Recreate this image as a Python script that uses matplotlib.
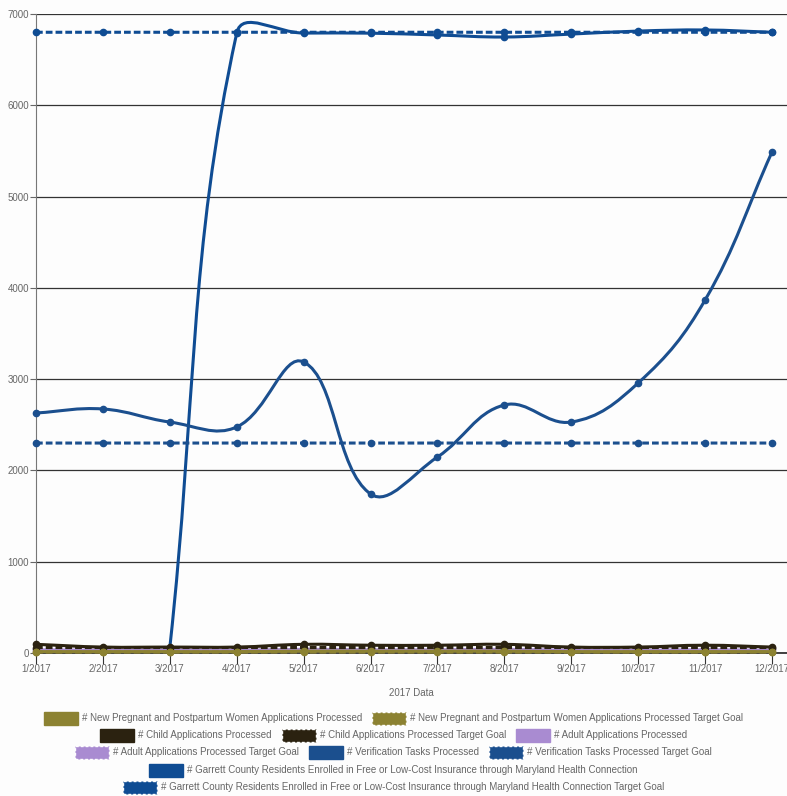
import numpy as np
import matplotlib
matplotlib.use("Agg")
import matplotlib.pyplot as plt
from matplotlib.path import Path
from matplotlib.patches import PathPatch, Rectangle

months = ["1/2017", "2/2017", "3/2017", "4/2017", "5/2017", "6/2017",
          "7/2017", "8/2017", "9/2017", "10/2017", "11/2017", "12/2017"]

pregnant = [15, 15, 15, 15, 20, 20, 20, 20, 15, 15, 15, 15]
pregnant_goal = [10] * 12
child = [95, 65, 65, 65, 95, 85, 85, 95, 65, 65, 85, 65]
child_goal = [60] * 12
adult = [35, 30, 30, 30, 40, 35, 35, 40, 30, 30, 35, 30]
adult_goal = [40] * 12
verification = [2629, 2673, 2530, 2476, 3188, 1742, 2147, 2717, 2530, 2958, 3867, 5488]
verification_goal = [2300] * 12
garrett = [None, None, 60, 6791, 6791, 6790, 6770, 6748, 6780, 6813, 6825, 6800]
garrett_goal = [6800] * 12

labels = [
    "# New Pregnant and Postpartum Women Applications Processed",
    "# New Pregnant and Postpartum Women Applications Processed Target Goal",
    "# Child Applications Processed",
    "# Child Applications Processed Target Goal",
    "# Adult Applications Processed",
    "# Adult Applications Processed Target Goal",
    "# Verification Tasks Processed",
    "# Verification Tasks Processed Target Goal",
    "# Garrett County Residents Enrolled in Free or Low-Cost Insurance through Maryland Health Connection",
    "# Garrett County Residents Enrolled in Free or Low-Cost Insurance through Maryland Health Connection Target Goal",
]
series = [pregnant, pregnant_goal, child, child_goal, adult, adult_goal,
          verification, verification_goal, garrett, garrett_goal]
colors = ["#8c8232", "#8c8232", "#2b2210", "#2b2210", "#a98bd1", "#a98bd1",
          "#1b4f8e", "#1b4f8e", "#0f4c93", "#0f4c93"]
dashed = [False, True] * 5
legend_rows = [[0, 1], [2, 3, 4], [5, 6, 7], [8], [9]]

W, H = 787, 796
fig = plt.figure(figsize=(W / 100, H / 100), dpi=100, facecolor="#fdfdfd")
x0, x1, ytop, ybot = 36, 787, 14, 653
ax = fig.add_axes([x0 / W, 1 - ybot / H, (x1 - x0) / W, (ybot - ytop) / H])
ax.set_facecolor("#fdfdfd")
xmax = 11 + (x1 - 772) / ((772 - 36) / 11)
ax.set_xlim(0, xmax)
ax.set_ylim(0, 7000)

font = "Liberation Sans"
grey = "#666666"

ax.set_yticks(range(0, 7001, 1000))
ax.set_yticklabels([str(v) for v in range(0, 7001, 1000)], fontsize=7, color=grey, family=font)
ax.set_xticks(range(12))
ax.set_xticklabels(months, fontsize=7, color=grey, family=font)
ax.tick_params(axis="y", length=4, color=grey, pad=1)
ax.tick_params(axis="x", length=8, color="#333333", pad=0)
ax.grid(axis="y", color="#333333", linewidth=0.9)
ax.set_axisbelow(True)
for s in ["top", "right"]:
    ax.spines[s].set_visible(False)
ax.spines["left"].set_color("#777777")
ax.spines["bottom"].set_color("#222222")
ax.spines["bottom"].set_linewidth(1.2)
ax.set_xlabel("2017 Data", fontsize=7, color=grey, family=font, labelpad=10)

# pixel scales used for the spline control points
sx = (x1 - x0) / xmax
sy = (ybot - ytop) / 7000.0


def spline_path(xs, ys, tension=0.4):
    px = np.asarray(xs, float) * sx
    py = np.asarray(ys, float) * sy
    n = len(px)
    cp_prev = []
    cp_next = []
    for i in range(n):
        p = (px[max(i - 1, 0)], py[max(i - 1, 0)])
        c = (px[i], py[i])
        q = (px[min(i + 1, n - 1)], py[min(i + 1, n - 1)])
        d01 = np.hypot(c[0] - p[0], c[1] - p[1])
        d12 = np.hypot(q[0] - c[0], q[1] - c[1])
        tot = d01 + d12
        s01 = d01 / tot if tot else 0
        s12 = d12 / tot if tot else 0
        fa, fb = tension * s01, tension * s12
        cp_prev.append((c[0] - fa * (q[0] - p[0]), c[1] - fa * (q[1] - p[1])))
        cp_next.append((c[0] + fb * (q[0] - p[0]), c[1] + fb * (q[1] - p[1])))
    verts = [(px[0], py[0])]
    codes = [Path.MOVETO]
    for i in range(1, n):
        verts += [cp_next[i - 1], cp_prev[i], (px[i], py[i])]
        codes += [Path.CURVE4] * 3
    verts = [(vx / sx, vy / sy) for vx, vy in verts]
    return Path(verts, codes)


# first series sits on top, later ones underneath
nser = len(series)
for k, (vals, col, dsh) in enumerate(zip(series, colors, dashed)):
    xs = [i for i, v in enumerate(vals) if v is not None]
    ys = [v for v in vals if v is not None]
    ls = (0, (2.2, 1.0)) if dsh else "-"
    z = 3 + 2 * (nser - k)
    patch = PathPatch(spline_path(xs, ys), facecolor="none", edgecolor=col,
                      linewidth=2.2, linestyle=ls, clip_on=False, zorder=z)
    ax.add_patch(patch)
    ax.plot(xs, ys, "o", color=col, markersize=4.5, zorder=z + 1, clip_on=False)

# legend laid out in centred rows
fig.canvas.draw()
renderer = fig.canvas.get_renderer()
box_w, box_h, gap, pad = 34, 13, 4, 10
row_y = [718, 735, 752, 770, 787]
for row, yc in zip(legend_rows, row_y):
    widths = []
    texts = []
    for idx in row:
        t = fig.text(0, 0, labels[idx], fontsize=7, color=grey, family=font)
        w = t.get_window_extent(renderer).width
        widths.append(w)
        texts.append(t)
    total = sum(box_w + gap + w for w in widths) + pad * (len(row) - 1)
    xcur = W / 2 - total / 2
    for idx, w, t in zip(row, widths, texts):
        rect = Rectangle((xcur / W, 1 - (yc + box_h / 2) / H), box_w / W, box_h / H,
                         transform=fig.transFigure, facecolor=colors[idx],
                         edgecolor="#ffffff" if dashed[idx] else colors[idx],
                         linewidth=1.0, linestyle=(0, (2, 1.5)) if dashed[idx] else "-")
        fig.add_artist(rect)
        t.set_position(((xcur + box_w + gap) / W, 1 - yc / H))
        t.set_va("center")
        xcur += box_w + gap + w + pad

fig.savefig("out.png", dpi=100, facecolor=fig.get_facecolor())
